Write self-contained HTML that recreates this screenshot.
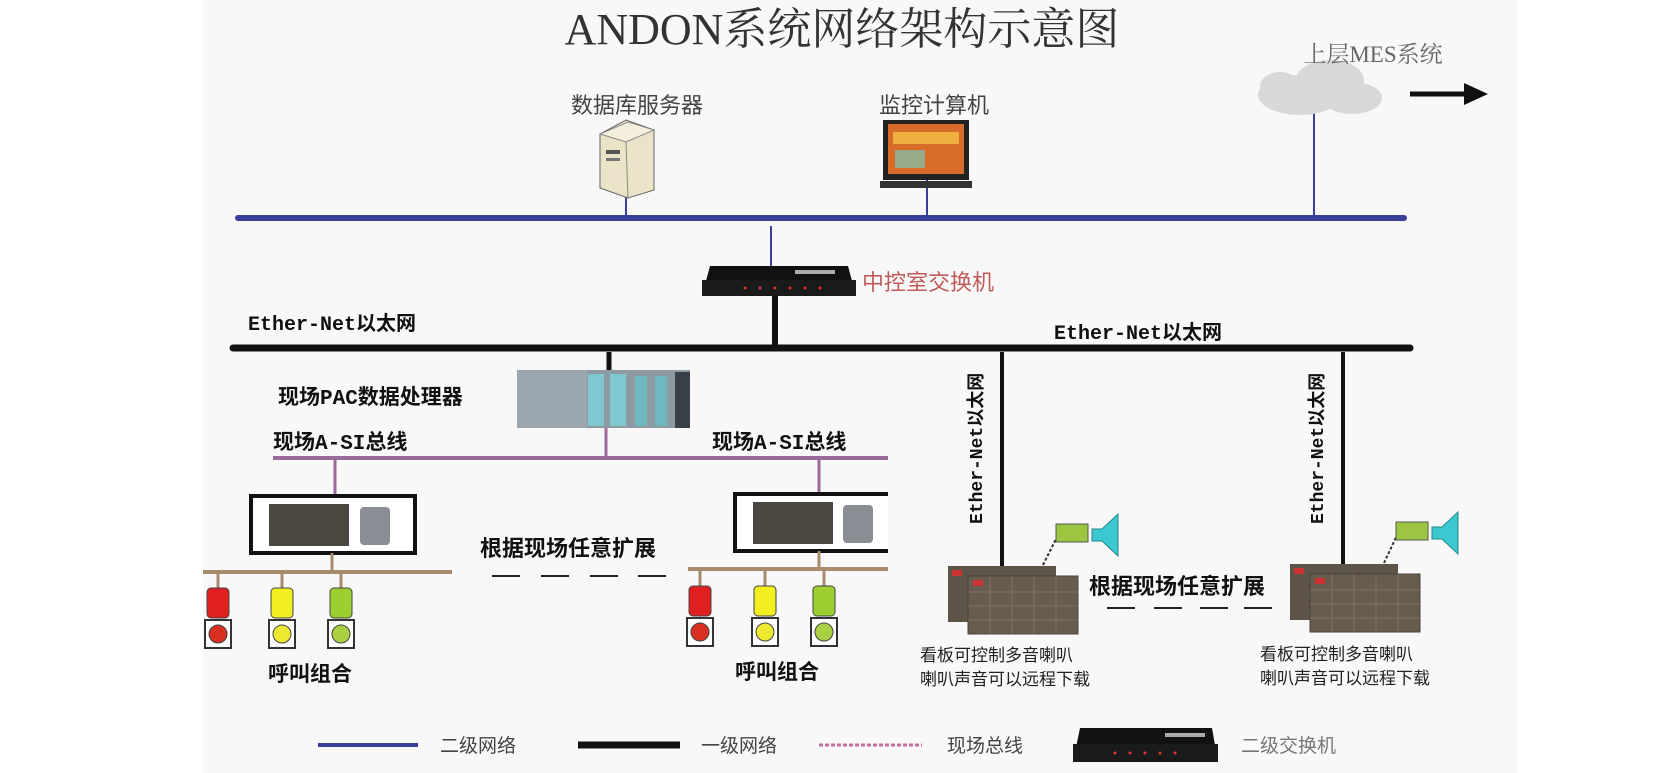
<!DOCTYPE html>
<html><head><meta charset="utf-8"><style>
html,body{margin:0;padding:0;background:#fff}
#c{position:relative;width:1678px;height:773px;overflow:hidden;background:#fff}
svg text{font-family:"Liberation Sans","Noto Sans CJK SC",sans-serif}
</style></head><body><div id="c">
<svg width="1678" height="773" viewBox="0 0 1678 773" xmlns="http://www.w3.org/2000/svg">
<rect x="203" y="0" width="1315" height="773" fill="#f8f8f8"/>
<text x="842" y="44" text-anchor="middle" font-size="44" fill="#333" style="font-family:'Liberation Serif','Noto Serif CJK SC',serif">ANDON系统网络架构示意图</text>
<line x1="238" y1="218" x2="1404" y2="218" stroke="#3a3f9a" stroke-width="6" stroke-linecap="round"/>
<line x1="626" y1="188" x2="626" y2="218" stroke="#3a3f9a" stroke-width="2"/>
<line x1="927" y1="176" x2="927" y2="218" stroke="#3a3f9a" stroke-width="2"/>
<line x1="1314" y1="107" x2="1314" y2="218" stroke="#3a3f9a" stroke-width="2"/>
<line x1="771" y1="226" x2="771" y2="266" stroke="#3a3f9a" stroke-width="2"/>
<text x="637" y="113" text-anchor="middle" font-size="22" fill="#444">数据库服务器</text>
<text x="934" y="113" text-anchor="middle" font-size="22" fill="#444">监控计算机</text>
<polygon points="600,134 626,120 654,130 654,190 628,198 600,188" fill="#ebe3c8" stroke="#666"/>
<polygon points="600,134 626,142 654,130 628,122" fill="#f4efdc" stroke="#888"/>
<line x1="626" y1="142" x2="628" y2="198" stroke="#888"/>
<rect x="606" y="150" width="14" height="4" fill="#555"/><rect x="606" y="158" width="14" height="3" fill="#777"/>
<rect x="883" y="120" width="86" height="60" fill="#222"/>
<rect x="888" y="124" width="76" height="50" fill="#d86a2a"/>
<rect x="893" y="132" width="66" height="12" fill="#f0b040"/>
<rect x="895" y="150" width="30" height="18" fill="#9a8"/>
<rect x="880" y="181" width="92" height="7" fill="#333"/>
<g fill="#d8d8d8"><ellipse cx="1300" cy="95" rx="42" ry="20"/><ellipse cx="1330" cy="80" rx="34" ry="20"/><ellipse cx="1352" cy="98" rx="30" ry="16"/><ellipse cx="1280" cy="86" rx="20" ry="14"/></g>
<text x="1373" y="62" text-anchor="middle" font-size="23" fill="#666" style="font-family:'Liberation Serif','Noto Serif CJK SC',serif">上层MES系统</text>
<line x1="1410" y1="94" x2="1466" y2="94" stroke="#111" stroke-width="5"/>
<polygon points="1464,83 1488,94 1464,105" fill="#111"/>
<polygon points="710,266 848,266 856,296 702,296" fill="#111"/>
<rect x="702" y="280" width="154" height="16" fill="#1a1a1a"/>
<g fill="#d33"><circle cx="745" cy="288" r="1.5"/><circle cx="760" cy="288" r="1.5"/><circle cx="775" cy="288" r="1.5"/><circle cx="790" cy="288" r="1.5"/><circle cx="805" cy="288" r="1.5"/><circle cx="820" cy="288" r="1.5"/></g>
<rect x="795" y="270" width="40" height="4" fill="#aaa"/>
<text x="862" y="290" font-size="22" fill="#c05a5a">中控室交换机</text>
<line x1="775" y1="296" x2="775" y2="348" stroke="#111" stroke-width="6"/>
<line x1="233" y1="348" x2="1410" y2="348" stroke="#111" stroke-width="7" stroke-linecap="round"/>
<text x="248" y="330" font-size="20" font-weight="bold" fill="#111" style="font-family:'Liberation Mono','Noto Sans CJK SC',monospace">Ether-Net以太网</text>
<text x="1054" y="339" font-size="20" font-weight="bold" fill="#111" style="font-family:'Liberation Mono','Noto Sans CJK SC',monospace">Ether-Net以太网</text>
<line x1="1002" y1="352" x2="1002" y2="568" stroke="#111" stroke-width="4"/>
<line x1="1343" y1="352" x2="1343" y2="565" stroke="#111" stroke-width="4"/>
<text transform="translate(982,524) rotate(-90)" font-size="18" font-weight="bold" fill="#111" style="font-family:'Liberation Mono','Noto Sans CJK SC',monospace">Ether-Net以太网</text>
<text transform="translate(1323,524) rotate(-90)" font-size="18" font-weight="bold" fill="#111" style="font-family:'Liberation Mono','Noto Sans CJK SC',monospace">Ether-Net以太网</text>
<line x1="609" y1="352" x2="609" y2="372" stroke="#111" stroke-width="5"/>
<rect x="517" y="370" width="173" height="58" fill="#8d99a3"/>
<rect x="517" y="370" width="70" height="58" fill="#9ba6ae"/>
<rect x="588" y="374" width="16" height="52" fill="#7fc8cf"/><rect x="610" y="374" width="16" height="52" fill="#7fc8cf"/>
<rect x="635" y="376" width="12" height="50" fill="#6fb8bf"/><rect x="655" y="376" width="12" height="50" fill="#6fb8bf"/>
<rect x="675" y="372" width="15" height="56" fill="#3a4048"/>
<text x="278" y="404" font-size="21" font-weight="bold" fill="#111" style="font-family:'Liberation Mono','Noto Sans CJK SC',monospace">现场PAC数据处理器</text>
<line x1="606" y1="428" x2="606" y2="458" stroke="#9a6a9a" stroke-width="3"/>
<line x1="273" y1="458" x2="888" y2="458" stroke="#9a6a9a" stroke-width="4"/>
<text x="273" y="449" font-size="21" font-weight="bold" fill="#111" style="font-family:'Liberation Mono','Noto Sans CJK SC',monospace">现场A-SI总线</text>
<text x="712" y="449" font-size="21" font-weight="bold" fill="#111" style="font-family:'Liberation Mono','Noto Sans CJK SC',monospace">现场A-SI总线</text>
<line x1="335" y1="458" x2="335" y2="495" stroke="#9a6a9a" stroke-width="3"/>
<line x1="819" y1="458" x2="819" y2="492" stroke="#9a6a9a" stroke-width="3"/>
<rect x="251" y="496" width="164" height="57" fill="#fff" stroke="#111" stroke-width="4"/>
<rect x="269" y="504" width="80" height="42" fill="#4a4640"/><rect x="360" y="507" width="30" height="38" rx="4" fill="#8a8d94"/>
<rect x="735" y="494" width="160" height="57" fill="#fff" stroke="#111" stroke-width="4"/>
<rect x="753" y="502" width="80" height="42" fill="#4a4640"/><rect x="843" y="505" width="30" height="38" rx="4" fill="#8a8d94"/>
<rect x="888" y="488" width="12" height="70" fill="#f8f8f8"/>
<line x1="332" y1="553" x2="332" y2="572" stroke="#a88b6a" stroke-width="3"/>
<line x1="203" y1="572" x2="452" y2="572" stroke="#a88b6a" stroke-width="4"/>
<line x1="819" y1="551" x2="819" y2="569" stroke="#a88b6a" stroke-width="3"/>
<line x1="688" y1="569" x2="888" y2="569" stroke="#a88b6a" stroke-width="4"/>
<text x="568" y="556" text-anchor="middle" font-size="22" font-weight="bold" fill="#111">根据现场任意扩展</text>
<path d="M492 576h28M541 576h28M590 576h28M638 576h28" stroke="#222" stroke-width="2"/>
<g stroke="#a88b6a" stroke-width="3"><line x1="218" y1="572" x2="218" y2="588"/><line x1="282" y1="572" x2="282" y2="588"/><line x1="341" y1="572" x2="341" y2="588"/><line x1="700" y1="569" x2="700" y2="586"/><line x1="765" y1="569" x2="765" y2="586"/><line x1="824" y1="569" x2="824" y2="586"/></g>
<g stroke="#444" stroke-width="1">
<rect x="207" y="588" width="22" height="30" rx="4" fill="#e02020"/><rect x="205" y="620" width="26" height="28" fill="#fff" stroke="#333" stroke-width="2"/><circle cx="218" cy="634" r="9" fill="#d83020"/>
<rect x="271" y="588" width="22" height="30" rx="4" fill="#f2ee20"/><rect x="269" y="620" width="26" height="28" fill="#fff" stroke="#333" stroke-width="2"/><circle cx="282" cy="634" r="9" fill="#ecea30"/>
<rect x="330" y="588" width="22" height="30" rx="4" fill="#9cd030"/><rect x="328" y="620" width="26" height="28" fill="#fff" stroke="#333" stroke-width="2"/><circle cx="341" cy="634" r="9" fill="#a8d040"/>
<rect x="689" y="586" width="22" height="30" rx="4" fill="#e02020"/><rect x="687" y="618" width="26" height="28" fill="#fff" stroke="#333" stroke-width="2"/><circle cx="700" cy="632" r="9" fill="#d83020"/>
<rect x="754" y="586" width="22" height="30" rx="4" fill="#f2ee20"/><rect x="752" y="618" width="26" height="28" fill="#fff" stroke="#333" stroke-width="2"/><circle cx="765" cy="632" r="9" fill="#ecea30"/>
<rect x="813" y="586" width="22" height="30" rx="4" fill="#9cd030"/><rect x="811" y="618" width="26" height="28" fill="#fff" stroke="#333" stroke-width="2"/><circle cx="824" cy="632" r="9" fill="#a8d040"/>
</g>
<text x="310" y="681" text-anchor="middle" font-size="21" font-weight="bold" fill="#111">呼叫组合</text>
<text x="777" y="679" text-anchor="middle" font-size="21" font-weight="bold" fill="#111">呼叫组合</text>
<g>
<rect x="948" y="566" width="108" height="56" fill="#5e5448"/><rect x="952" y="570" width="10" height="6" fill="#c33"/>
<rect x="968" y="576" width="110" height="58" fill="#675c4e" stroke="#4a4238"/><rect x="973" y="580" width="10" height="6" fill="#c33"/>
<path d="M968 592h110M968 606h110M968 620h110M990 576v58M1012 576v58M1034 576v58M1056 576v58" stroke="#7d7262" stroke-width="1"/>
<line x1="1043" y1="565" x2="1058" y2="535" stroke="#333" stroke-width="2" stroke-dasharray="3,2"/>
<rect x="1056" y="524" width="32" height="18" fill="#9cc640" stroke="#555"/>
<polygon points="1092,529 1102,529 1118,514 1118,556 1102,541 1092,541" fill="#3cc8d0" stroke="#288"/>
</g>
<g>
<rect x="1290" y="564" width="108" height="56" fill="#5e5448"/><rect x="1294" y="568" width="10" height="6" fill="#c33"/>
<rect x="1310" y="574" width="110" height="58" fill="#675c4e" stroke="#4a4238"/><rect x="1315" y="578" width="10" height="6" fill="#c33"/>
<path d="M1310 590h110M1310 604h110M1310 618h110M1332 574v58M1354 574v58M1376 574v58M1398 574v58" stroke="#7d7262" stroke-width="1"/>
<line x1="1384" y1="563" x2="1398" y2="533" stroke="#333" stroke-width="2" stroke-dasharray="3,2"/>
<rect x="1396" y="522" width="32" height="18" fill="#9cc640" stroke="#555"/>
<polygon points="1432,527 1442,527 1458,512 1458,554 1442,539 1432,539" fill="#3cc8d0" stroke="#288"/>
</g>
<text x="1177" y="594" text-anchor="middle" font-size="22" font-weight="bold" fill="#111">根据现场任意扩展</text>
<path d="M1107 608h28M1154 608h28M1200 608h28M1244 608h28" stroke="#222" stroke-width="2"/>
<text x="920" y="661" font-size="17" fill="#222">看板可控制多音喇叭</text>
<text x="920" y="685" font-size="17" fill="#222">喇叭声音可以远程下载</text>
<text x="1260" y="660" font-size="17" fill="#222">看板可控制多音喇叭</text>
<text x="1260" y="684" font-size="17" fill="#222">喇叭声音可以远程下载</text>
<line x1="318" y1="745" x2="418" y2="745" stroke="#3a3f9a" stroke-width="4"/>
<text x="440" y="752" font-size="19" fill="#444">二级网络</text>
<line x1="578" y1="745" x2="680" y2="745" stroke="#111" stroke-width="7"/>
<text x="701" y="752" font-size="19" fill="#444">一级网络</text>
<line x1="819" y1="745" x2="922" y2="745" stroke="#c070a0" stroke-width="3" stroke-dasharray="4,2"/>
<text x="947" y="752" font-size="19" fill="#444">现场总线</text>
<polygon points="1080,728 1212,728 1218,762 1073,762" fill="#111"/>
<rect x="1073" y="744" width="145" height="18" fill="#1a1a1a"/>
<g fill="#d33"><circle cx="1115" cy="753" r="1.5"/><circle cx="1130" cy="753" r="1.5"/><circle cx="1145" cy="753" r="1.5"/><circle cx="1160" cy="753" r="1.5"/><circle cx="1175" cy="753" r="1.5"/></g>
<rect x="1165" y="733" width="40" height="4" fill="#aaa"/>
<text x="1241" y="752" font-size="19" fill="#777">二级交换机</text>
</svg>
</div></body></html>
